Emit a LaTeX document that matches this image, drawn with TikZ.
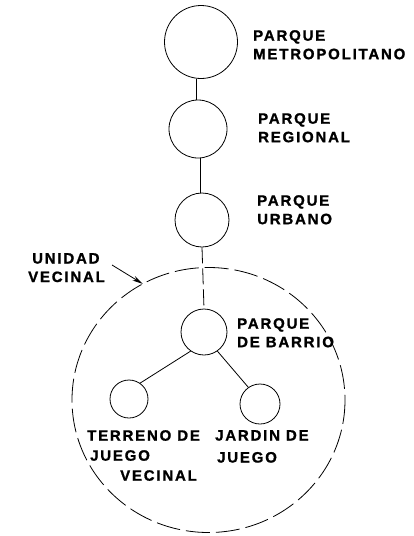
\documentclass[tikz,border=0pt]{standalone}
\usepackage{fontspec}
\setmainfont{Liberation Sans}
\newfontfamily\labfont[LetterSpace=12,BoldFeatures={FakeBold=1.2}]{Liberation Sans}
\usetikzlibrary{arrows.meta}
\begin{document}
\begin{tikzpicture}[x=1pt,y=-1pt,
  lab/.style={anchor=north west,inner sep=0pt,align=left,font=\labfont\bfseries\fontsize{15}{18.5}\selectfont},
  ring/.style={draw,line width=0.8pt,circle,inner sep=0pt},
  link/.style={draw,line width=0.8pt},
  dlink/.style={draw,line width=0.8pt,dash pattern=on 16pt off 5pt}]
\useasboundingbox (0,0) rectangle (413,536);
% outer unit
\draw[line width=0.8pt,dash pattern=on 24pt off 6pt] (208.5,400) ellipse [x radius=136.5,y radius=132.5];
% circles
\node[ring,minimum size=73pt] (metro) at (201,42) {};
\node[ring,minimum size=58pt] (regional) at (198,129) {};
\node[ring,minimum size=54pt] (urbano) at (202,220) {};
\node[ring,minimum size=46pt] (barrio) at (204,332) {};
\node[ring,minimum size=40pt] (jardin) at (260,404) {};
\node[ring,minimum size=38pt] (terreno) at (129,399) {};
% connectors
\draw[link] (metro.south) ++(-5,0) coordinate (m1) -- (m1 |- regional.north);
\draw[link] (regional.south) ++(2,0) coordinate (r1) -- (r1 |- urbano.north);
\draw[dlink] (urbano.south) -- (barrio.north);
\draw[link] (barrio.-55) -- (jardin.125);
\draw[link] (barrio.-125) -- (terreno.55);
% labels
\node[lab] (lmetro) at (253,30) {PARQUE\\METROPOLITANO};
\node[lab] (lregional) at (258,113) {PARQUE\\REGIONAL};
\node[lab] (lurbano) at (257,195) {PARQUE\\URBANO};
\node[lab] (lunidad) at (28,253) {\hspace*{4pt}UNIDAD\\VECINAL};
\node[lab] (lbarrio) at (237,318) {PARQUE\\DE BARRIO};
\node[lab,font=\labfont\bfseries\fontsize{15}{20}\selectfont] (lterreno) at (87,430) {TERRENO DE\\\hspace*{3pt}JUEGO\\\hspace*{33pt}VECINAL};
\node[lab,font=\labfont\bfseries\fontsize{15}{22}\selectfont] (ljardin) at (215,430) {JARDIN DE\\\hspace*{2pt}JUEGO};
% leader
\coordinate (utip) at (143,284);
\draw[line width=0.8pt,-{Stealth[length=11pt,width=5pt]}] (lunidad.north east) ++(7,12) -- (utip);
\end{tikzpicture}
\end{document}
